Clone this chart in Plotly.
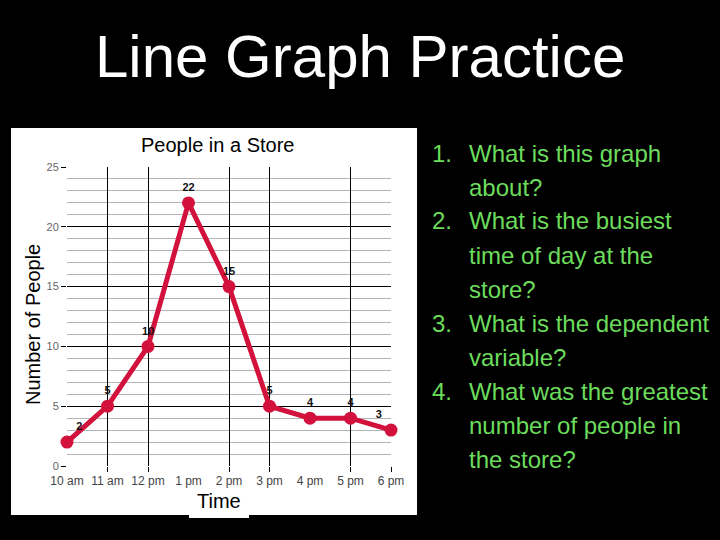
import plotly.graph_objects as go

times = ["10 am", "11 am", "12 pm", "1 pm", "2 pm", "3 pm", "4 pm", "5 pm", "6 pm"]
people = [2, 5, 10, 22, 15, 5, 4, 4, 3]
label_pos = ["top right", "top center", "top center", "top center", "top center",
             "top center", "top center", "top center", "top left"]
grid_times = ["11 am", "12 pm", "2 pm", "3 pm", "5 pm", "6 pm"]
y_ticks = [0, 5, 10, 15, 20, 25]

slide_title = "Line Graph Practice"
chart_title = "People in a Store"
x_title = "Time"
y_title = "Number of People"
questions = [
    ("1.", ["What is this graph", "about?"]),
    ("2.", ["What is the busiest", "time of day at the", "store?"]),
    ("3.", ["What is the dependent", "variable?"]),
    ("4.", ["What was the greatest", "number of people in", "the store?"]),
]

W, H = 720, 540
FONT = "Liberation Sans, Arial, sans-serif"


def px(x):
    return x / W


def py(y):
    return 1 - y / H


fig = go.Figure()
fig.add_trace(go.Scatter(
    x=times, y=people, mode="lines+markers+text",
    line=dict(color="#d2123c", width=5),
    marker=dict(color="#d2123c", size=13),
    text=[str(v) for v in people], textposition=label_pos,
    textfont=dict(family=FONT, size=11, color="#111111", weight="bold"),
    cliponaxis=False, showlegend=False, hoverinfo="skip",
))

annotations = [
    dict(text=slide_title, x=0.5, y=py(56), xref="paper", yref="paper",
         showarrow=False, font=dict(family=FONT, size=60, color="white"),
         xanchor="center", yanchor="middle"),
    dict(text=chart_title, x=px(217), y=py(145), xref="paper", yref="paper",
         showarrow=False, font=dict(family=FONT, size=20, color="black"),
         xanchor="center", yanchor="middle"),
    dict(text=x_title, x=px(219), y=py(501), xref="paper", yref="paper",
         showarrow=False, font=dict(family=FONT, size=20, color="black"),
         xanchor="center", yanchor="middle"),
    dict(text=y_title, x=px(33), y=py(325), xref="paper", yref="paper",
         showarrow=False, font=dict(family=FONT, size=20, color="black"),
         xanchor="center", yanchor="middle", textangle=-90),
]

baseline = 162
step = 34
QCOL = "#6cdc5c"
for num, lines in questions:
    for i, line in enumerate(lines):
        yc = baseline - 9
        if i == 0:
            annotations.append(dict(text=num, x=px(430), y=py(yc), xref="paper", yref="paper",
                                    showarrow=False, xanchor="left", yanchor="middle",
                                    font=dict(family=FONT, size=24, color=QCOL)))
        annotations.append(dict(text=line, x=px(467), y=py(yc), xref="paper", yref="paper",
                                showarrow=False, xanchor="left", yanchor="middle",
                                font=dict(family=FONT, size=24, color=QCOL)))
        baseline += step

shapes = [
    dict(type="rect", xref="paper", yref="paper", x0=px(11), x1=px(417), y0=py(515), y1=py(128),
         fillcolor="white", line=dict(width=0), layer="below"),
    dict(type="rect", xref="paper", yref="paper", x0=px(189), x1=px(249), y0=py(518), y1=py(510),
         fillcolor="white", line=dict(width=0), layer="below"),
]

fig.update_layout(
    width=W, height=H, autosize=False,
    margin=dict(l=0, r=0, t=0, b=0, pad=0, autoexpand=False),
    paper_bgcolor="black", plot_bgcolor="white",
    annotations=annotations, shapes=shapes,
    xaxis=dict(
        type="category", categoryorder="array", categoryarray=times,
        domain=[px(67), px(391)], range=[0, 8], automargin=False,
        showgrid=False, zeroline=False, showline=False,
        ticks="outside", ticklen=4, tickcolor="rgba(0,0,0,0)",
        tickfont=dict(family=FONT, size=12, color="#444444"),
        anchor="y", fixedrange=True,
    ),
    xaxis2=dict(
        type="category", categoryorder="array", categoryarray=times,
        overlaying="x", matches="x", anchor="y", side="bottom", automargin=False,
        tickmode="array", tickvals=grid_times, showticklabels=False,
        showgrid=True, gridcolor="black", gridwidth=1,
        ticks="outside", ticklen=5, tickcolor="black",
        zeroline=False, showline=False,
    ),
    yaxis=dict(
        domain=[py(466), py(167)], range=[0, 25], automargin=False,
        tickmode="array", tickvals=y_ticks,
        showgrid=True, gridcolor="black", gridwidth=1,
        minor=dict(dtick=1, showgrid=True, gridcolor="#b4b4b4", gridwidth=1),
        ticks="outside", ticklen=5, tickcolor="black",
        zeroline=False, showline=False,
        tickfont=dict(family=FONT, size=11, color="#666666"),
        fixedrange=True,
    ),
)
fig.add_trace(go.Scatter(x=times, y=people, xaxis="x2", yaxis="y", mode="none",
                         showlegend=False, hoverinfo="skip"))

fig.write_html("out.html", config={"displayModeBar": False},
               post_script="document.body.style.margin='0';document.body.style.overflow='hidden';")
